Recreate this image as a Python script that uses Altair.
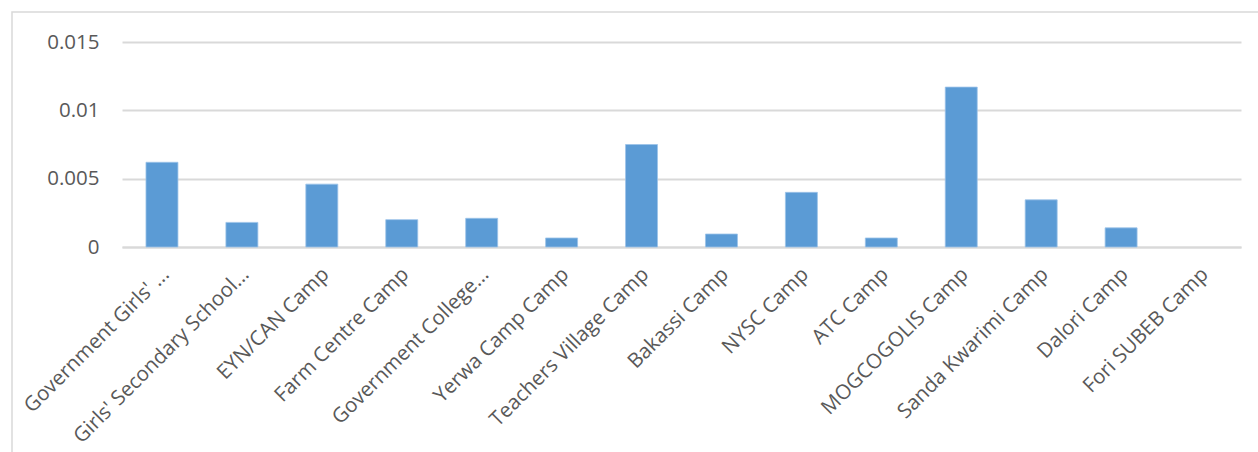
import altair as alt
import pandas as pd

# Camp names and their values
camps = [
    "Government Girls' ...",
    "Girls' Secondary School...",
    "EYN/CAN Camp",
    "Farm Centre Camp",
    "Government  College...",
    "Yerwa Camp Camp",
    "Teachers Village Camp",
    "Bakassi Camp",
    "NYSC Camp",
    "ATC Camp",
    "MOGCOGOLIS Camp",
    "Sanda Kwarimi Camp",
    "Dalori Camp",
    "Fori SUBEB Camp",
]
values = [0.0062, 0.0018, 0.0046, 0.0020, 0.0021, 0.00066, 0.0075,
          0.00095, 0.0040, 0.00066, 0.0117, 0.00345, 0.0014, 0.0]
y_ticks = [0, 0.005, 0.01, 0.015]

df = pd.DataFrame({"camp": camps, "value": values})

FONT = "Open Sans"
TEXT = "#595959"
GRID = "#d9d9d9"

PLOT_W, PLOT_H = 1119, 205
PAD = {"left": 122, "top": 42, "right": 17, "bottom": 205}

label_expr = (
    "datum.value == 0 ? '0' : datum.value == 0.005 ? '0.005' : "
    "datum.value == 0.01 ? '0.01' : '0.015'"
)

bars = alt.Chart(df).mark_bar(
    color="#5B9BD5", stroke="#9cc3e8", strokeWidth=0.8
).encode(
    x=alt.X(
        "camp:N",
        sort=camps,
        title=None,
        scale=alt.Scale(paddingInner=0.6, paddingOuter=0.3),
        axis=alt.Axis(
            labelAngle=-45,
            labelAlign="right",
            labelBaseline="middle",
            labelFont=FONT,
            labelFontSize=20.5,
            labelColor=TEXT,
            labelPadding=24,
            labelOffset=4,
            ticks=False,
            domain=True,
            domainColor=GRID,
            domainWidth=2,
            grid=False,
            labelOverlap=False,
            labelLimit=400,
        ),
    ),
    y=alt.Y(
        "value:Q",
        title=None,
        scale=alt.Scale(domain=[0, 0.015], nice=False),
        axis=alt.Axis(
            values=y_ticks,
            labelExpr=label_expr,
            labelFont=FONT,
            labelFontSize=20.5,
            labelColor=TEXT,
            labelPadding=23,
            ticks=False,
            domain=False,
            grid=True,
            gridColor=GRID,
            gridWidth=2,
        ),
    ),
    strokeOpacity=alt.condition("datum.value > 0", alt.value(1), alt.value(0)),
)

# Light frame around the whole chart
frame = alt.Chart(pd.DataFrame({"k": [0]})).mark_rect(
    fill=None, stroke=GRID, strokeWidth=1.5
).encode(
    x=alt.value(-110), x2=alt.value(1160),
    y=alt.value(-30), y2=alt.value(460),
)

chart = alt.layer(frame, bars).properties(
    width=PLOT_W,
    height=PLOT_H,
    autosize=alt.AutoSizeParams(type="none"),
    padding=PAD,
    background="white",
).configure_view(stroke=None)

chart.save("out.html", embed_options={"renderer": "svg", "actions": False})
